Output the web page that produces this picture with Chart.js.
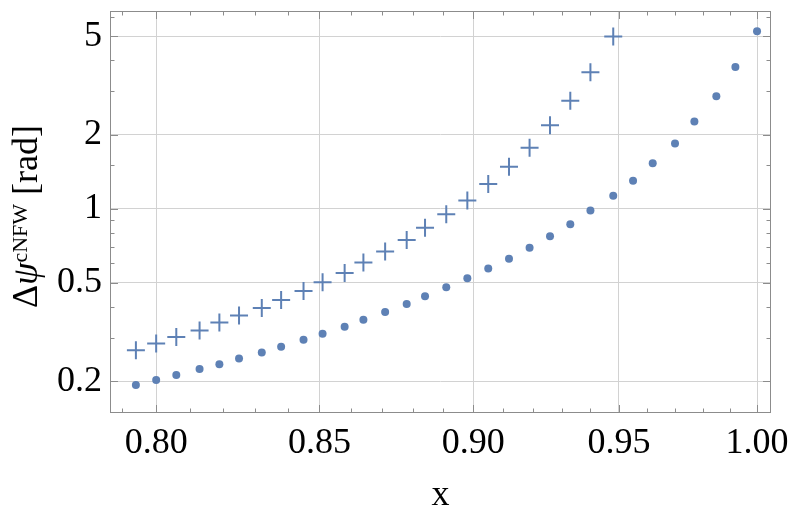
<!DOCTYPE html>
<html lang="en">
<head>
  <meta charset="UTF-8" />
  <title>cNFW phase shift</title>
  <script src="https://cdn.jsdelivr.net/npm/chart.js"></script>
  <style>
    html, body { margin: 0; padding: 0; background: #fff; }
    canvas { display: block; }
  </style>
</head>
<body>
  <canvas id="chart" width="789" height="517"></canvas>
  <script>
    // sample positions (shared by both series)
    const xValues = [0.794, 0.800, 0.806, 0.813, 0.819, 0.825, 0.832, 0.838, 0.845, 0.851,
                     0.858, 0.864, 0.871, 0.878, 0.884, 0.891, 0.898, 0.905, 0.912, 0.919,
                     0.926, 0.933, 0.940, 0.948, 0.955, 0.962, 0.970, 0.977, 0.985, 0.992, 1.000];
    // filled dots
    const dotValues = [0.193, 0.202, 0.212, 0.224, 0.234, 0.247, 0.261, 0.276, 0.294, 0.311,
                       0.332, 0.355, 0.381, 0.411, 0.442, 0.480, 0.523, 0.572, 0.627, 0.695,
                       0.774, 0.866, 0.984, 1.13, 1.30, 1.53, 1.84, 2.26, 2.86, 3.76, 5.25];
    // crosses (stop at x ~ 0.95)
    const crossValues = [0.267, 0.284, 0.302, 0.321, 0.346, 0.369, 0.396, 0.427, 0.464, 0.504,
                         0.549, 0.606, 0.671, 0.747, 0.837, 0.950, 1.08, 1.26, 1.48, 1.77,
                         2.18, 2.74, 3.58, 5.00];

    const xTicks = [0.80, 0.85, 0.90, 0.95, 1.00];
    const xMinor = [0.79, 0.81, 0.82, 0.83, 0.84, 0.86, 0.87, 0.88, 0.89,
                    0.91, 0.92, 0.93, 0.94, 0.96, 0.97, 0.98, 0.99];
    const yTicks = [0.2, 0.5, 1, 2, 5];
    const yMinor = [0.15, 0.3, 0.4, 0.6, 0.7, 0.8, 0.9, 1.5, 3, 4, 6];

    const blue = '#5E81B5';
    const serif = '"Liberation Serif", "Times New Roman", serif';

    // no automatic padding for overhanging tick labels
    const noPad = s => { s.paddingLeft = 0; s.paddingRight = 0; s.paddingTop = 0; s.paddingBottom = 0; };

    // frame box with inward ticks on all four sides
    const frame = {
      id: 'frame',
      beforeDatasetsDraw(chart) {
        const { ctx, chartArea: a, scales: { x, y } } = chart;
        ctx.save();
        ctx.strokeStyle = '#8c8c8c';
        ctx.lineWidth = 1;
        ctx.strokeRect(a.left + 0.5, a.top + 0.5, a.right - a.left - 1, a.bottom - a.top - 1);
        ctx.beginPath();
        const xt = (v, len) => {
          const p = Math.round(x.getPixelForValue(v)) + 0.5;
          ctx.moveTo(p, a.bottom); ctx.lineTo(p, a.bottom - len);
          ctx.moveTo(p, a.top); ctx.lineTo(p, a.top + len);
        };
        const yt = (v, len) => {
          const p = Math.round(y.getPixelForValue(v)) + 0.5;
          ctx.moveTo(a.left, p); ctx.lineTo(a.left + len, p);
          ctx.moveTo(a.right, p); ctx.lineTo(a.right - len, p);
        };
        xTicks.forEach(v => xt(v, 8));
        xMinor.forEach(v => xt(v, 4.5));
        yTicks.forEach(v => yt(v, 8));
        yMinor.forEach(v => yt(v, 4.5));
        ctx.stroke();
        ctx.restore();
      }
    };

    // y title with superscript: Δψ^cNFW [rad]
    const yTitle = {
      id: 'yTitle',
      afterDraw(chart) {
        const ctx = chart.ctx;
        const parts = [
          ['\u0394', '36px ' + serif, 0],
          ['\u03C8', 'italic 36px ' + serif, 0],
          ['cNFW', '22px ' + serif, -10],
          [' [rad]', '36px ' + serif, 0]
        ];
        ctx.save();
        let total = 0;
        parts.forEach(p => { ctx.font = p[1]; total += ctx.measureText(p[0]).width; });
        ctx.translate(37, 216.5 + total / 2);
        ctx.rotate(-Math.PI / 2);
        ctx.fillStyle = '#000';
        ctx.textBaseline = 'alphabetic';
        let pos = 0;
        parts.forEach(p => {
          ctx.font = p[1];
          ctx.fillText(p[0], pos, p[2]);
          pos += ctx.measureText(p[0]).width;
        });
        ctx.restore();
      }
    };

    new Chart(document.getElementById('chart'), {
      type: 'scatter',
      data: {
        datasets: [
          {
            data: xValues.map((x, i) => ({ x, y: dotValues[i] })),
            pointStyle: 'circle',
            pointRadius: 4,
            backgroundColor: blue,
            borderWidth: 0
          },
          {
            data: crossValues.map((y, i) => ({ x: xValues[i], y })),
            pointStyle: 'cross',
            pointRadius: 9,
            borderColor: blue,
            borderWidth: 2
          }
        ]
      },
      options: {
        responsive: false,
        animation: false,
        layout: { padding: { top: 6, right: 18, left: 0, bottom: 0 } },
        plugins: { legend: { display: false }, tooltip: { enabled: false } },
        scales: {
          x: {
            type: 'logarithmic',
            min: 0.7864,
            max: 1.0052,
            afterBuildTicks: s => { s.ticks = xTicks.map(v => ({ value: v })); },
            afterFit: s => { s.height = 104; noPad(s); },
            ticks: {
              callback: v => Number(v).toFixed(2),
              font: { family: serif, size: 36 },
              color: '#000',
              padding: 9,
              maxRotation: 0,
              autoSkip: false
            },
            grid: { color: '#d2d2d2', drawTicks: false },
            border: { display: false },
            title: { display: true, text: 'x', font: { family: serif, size: 36 }, color: '#000', padding: 0 }
          },
          y: {
            type: 'logarithmic',
            min: 0.1485,
            max: 6.34,
            afterBuildTicks: s => { s.ticks = yTicks.map(v => ({ value: v })); },
            afterFit: s => { s.width = 110; noPad(s); },
            ticks: {
              callback: v => String(v),
              font: { family: serif, size: 36 },
              color: '#000',
              padding: 8,
              autoSkip: false
            },
            grid: { color: '#d2d2d2', drawTicks: false },
            border: { display: false }
          }
        }
      },
      plugins: [frame, yTitle]
    });
  </script>
</body>
</html>
